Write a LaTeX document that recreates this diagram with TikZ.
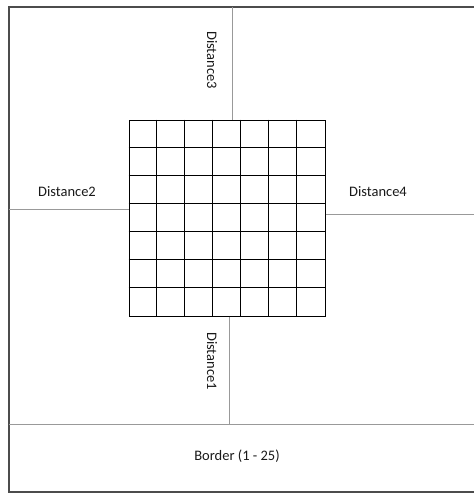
\documentclass[tikz,border=0pt]{standalone}
\usepackage{fontspec}
\setmainfont{Carlito}
\usetikzlibrary{positioning, calc}

\begin{document}
\begin{tikzpicture}[x=1pt, y=-1pt,
      myframe/.style={draw=black!70, line width=1.2pt},
      myline/.style={draw=black!40, line width=1pt},
      mylabel/.style={font=\fontsize{14.5}{17}\selectfont, text=black!90, inner sep=1pt},
      mygrid/.style={
         rectangle,
         draw=black,
         line width=1pt,
         inner sep=0pt,
         minimum width=196pt,
         minimum height=196pt}
      ]
      \useasboundingbox (0,0) rectangle (474,493);

      % frame points
      \coordinate (ftl) at (9,7);
      \coordinate (ftr) at (474,7);
      \coordinate (fbl) at (9,492);
      \coordinate (fbr) at (474,492);
      \coordinate (bl) at (9,424);
      \coordinate (br) at (474,424);
      \coordinate (top) at (232,7);
      \coordinate (bot) at (229,424);
      \coordinate (lft) at (9,209);
      \coordinate (rgt) at (474,214);

      \draw[myframe] (ftr) -- (ftl) -- (fbl) -- (fbr);
      \draw[myline] (bl) -- (br);

      \node[mygrid] (grid) at (227,218) {};
      \foreach \i in {1,...,6} {
        \draw[line width=1pt] ($(grid.north west)+(\i*28,0)$) -- ($(grid.south west)+(\i*28,0)$);
        \draw[line width=1pt] ($(grid.north west)+(0,\i*28)$) -- ($(grid.north east)+(0,\i*28)$);
      }

      \draw[myline] (top) -- (top |- grid.north);
      \draw[myline] (grid.south -| bot) -- (bot);
      \draw[myline] (lft) -- (lft -| grid.west);
      \draw[myline] (grid.east |- rgt) -- (rgt);

      \node[mylabel, rotate=-90] (d3) at (212,60) {Distance3};
      \node[mylabel, rotate=-90] (d1) at (212,361) {Distance1};
      \node[mylabel] (d2) at (67,192) {Distance2};
      \node[mylabel] (d4) at (378,192) {Distance4};
      \node[mylabel] (bd) at (237,456) {Border (1 - 25)};
\end{tikzpicture}
\end{document}
